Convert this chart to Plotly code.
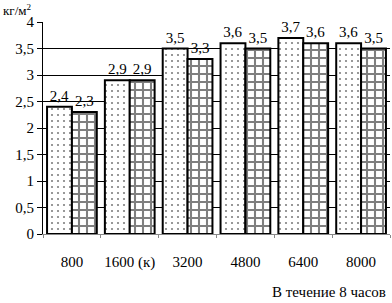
import plotly.graph_objects as go

categories = ["800", "1600 (к)", "3200", "4800", "6400", "8000"]
series_a = [2.4, 2.9, 3.5, 3.6, 3.7, 3.6]
series_b = [2.3, 2.9, 3.3, 3.5, 3.6, 3.5]
y_ticks = [0, 0.5, 1, 1.5, 2, 2.5, 3, 3.5, 4]

FONT = "Liberation Serif, Times New Roman, serif"

def fmt(v):
    return f"{v:.1f}".replace(".", ",")

fig = go.Figure()
fig.add_trace(go.Bar(
    x=categories, y=series_a,
    text=[fmt(v) for v in series_a], textposition="outside",
    textfont=dict(family=FONT, size=15, color="black"),
    cliponaxis=False,
    marker=dict(color="white", line=dict(color="black", width=2),
                pattern=dict(shape=".", fgcolor="black", bgcolor="white", size=6, solidity=0.1)),
))
fig.add_trace(go.Bar(
    x=categories, y=series_b,
    text=[fmt(v) for v in series_b], textposition="outside",
    textfont=dict(family=FONT, size=15, color="black"),
    cliponaxis=False,
    marker=dict(color="white", line=dict(color="black", width=2),
                pattern=dict(shape="+", fgcolor="black", bgcolor="white", size=8, solidity=0.45)),
))

fig.update_layout(
    width=392, height=303,
    margin=dict(l=43, r=2, t=22, b=69),
    paper_bgcolor="white", plot_bgcolor="white",
    showlegend=False,
    barmode="group", bargap=0.14, bargroupgap=0.0,
    separators=", ",
    font=dict(family=FONT, size=15, color="black"),
    xaxis=dict(
        type="category", showgrid=False, automargin=False,
        showline=True, linecolor="#888888", linewidth=1,
        ticks="outside", tickson="boundaries", ticklen=3, tickcolor="#888888",
        ticklabelstandoff=14, tickangle=0,
        tickfont=dict(family=FONT, size=15, color="black"),
    ),
    yaxis=dict(
        range=[0, 4], tickvals=y_ticks, automargin=False,
        showgrid=True, gridcolor="black", gridwidth=1,
        showline=True, linecolor="black", linewidth=1,
        ticks="outside", ticklen=5, tickcolor="black",
        tickfont=dict(family=FONT, size=15, color="black"),
        zeroline=False,
    ),
    annotations=[
        dict(text="кг/м<sup>2</sup>", xref="paper", yref="paper", x=-0.12, y=1.104,
             xanchor="left", yanchor="top", showarrow=False,
             font=dict(family=FONT, size=13, color="black")),
        dict(text="В течение 8 часов", xref="paper", yref="paper", x=0.995, y=-0.225,
             xanchor="right", yanchor="top", showarrow=False,
             font=dict(family=FONT, size=15, color="black")),
    ],
)

fig.write_html("out.html", config={"displayModeBar": False},
               post_script="document.body.style.margin='0';document.body.style.padding='0';")
